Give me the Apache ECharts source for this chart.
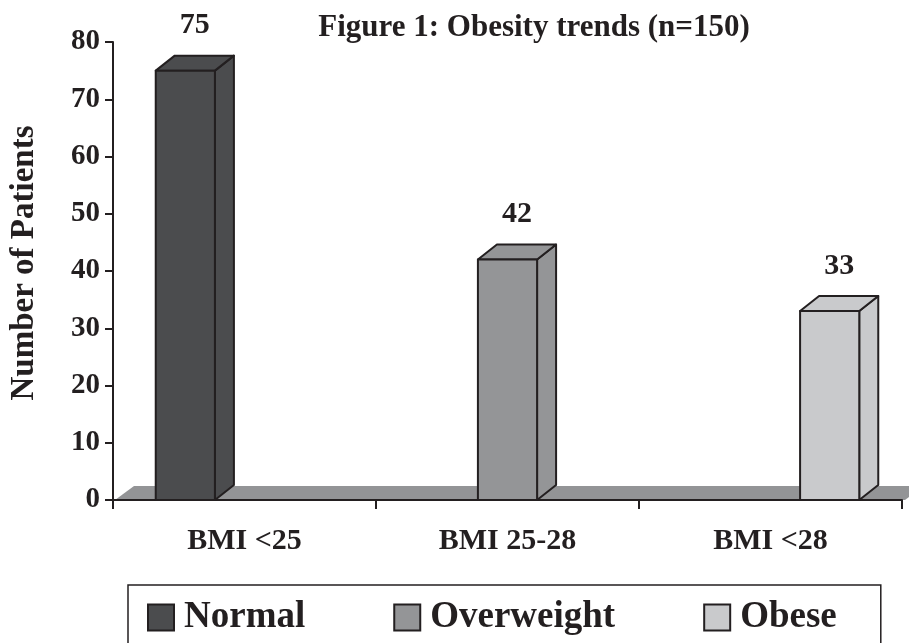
<!DOCTYPE html>
<html>
<head>
<meta charset="utf-8">
<style>
  html, body { margin: 0; padding: 0; background: #ffffff; }
  #chart { width: 909px; height: 643px; }
</style>
<script src="https://cdn.jsdelivr.net/npm/echarts@6/dist/echarts.min.js"></script>
</head>
<body>
<div id="chart"></div>
<script>
// BMI groups on the x axis
const categories = ['BMI <25', 'BMI 25-28', 'BMI <28'];
// One series per weight class; each class has a single BMI group
const seriesNames = ['Normal', 'Overweight', 'Obese'];
const patientCounts = [75, 42, 33];
const yTicks = [0, 10, 20, 30, 40, 50, 60, 70, 80];

const FONT = '"Liberation Serif", "Times New Roman", serif';
const INK = '#231f20';
const barColors = ['#4b4c4e', '#949597', '#c9cacc'];
const floorColor = '#939496';
const DEPTH_X = 19, DEPTH_Y = 15;

const chart = echarts.init(document.getElementById('chart'), null, { renderer: 'canvas' });

// Gray slanted floor under the plot
function renderFloor(params, api) {
  const cs = params.coordSys;
  const y0 = cs.y + cs.height;
  const x0 = cs.x + 2, x1 = cs.x + cs.width + 3;
  return {
    type: 'polygon',
    shape: { points: [[x0, y0], [x0 + DEPTH_X, y0 - 14], [x1 + DEPTH_X, y0 - 14], [x1, y0]] },
    style: { fill: floorColor }
  };
}

// Box-shaped bar: front face, top face and right side, plus value label
function makeBarRenderer(slot, color) {
  return function (params, api) {
    const cat = api.value(0);
    const val = api.value(1);
    const base = api.coord([cat, 0]);
    const top = api.coord([cat, val]);
    const band = api.size([1, 0])[0];
    const w = band * 0.225;
    const cx = base[0] + (slot - 1) * w;
    const xl = cx - w / 2, xr = cx + w / 2;
    const yt = top[1], yb = base[1];
    const stroke = { stroke: INK, lineWidth: 2, lineJoin: 'round' };
    return {
      type: 'group',
      children: [
        {
          type: 'polygon',
          shape: { points: [[xr, yt], [xr + DEPTH_X, yt - DEPTH_Y], [xr + DEPTH_X, yb - DEPTH_Y], [xr, yb]] },
          style: Object.assign({ fill: color }, stroke)
        },
        {
          type: 'polygon',
          shape: { points: [[xl, yt], [xl + DEPTH_X, yt - DEPTH_Y], [xr + DEPTH_X, yt - DEPTH_Y], [xr, yt]] },
          style: Object.assign({ fill: color }, stroke)
        },
        {
          type: 'rect',
          shape: { x: xl, y: yt, width: w, height: yb - yt },
          style: Object.assign({ fill: color }, stroke)
        },
        {
          type: 'text',
          x: cx + DEPTH_X / 2,
          y: yt - DEPTH_Y - 30,
          style: {
            text: String(val),
            fill: INK,
            font: 'bold 30px ' + FONT,
            textAlign: 'center',
            textVerticalAlign: 'middle'
          }
        }
      ]
    };
  };
}

const barSeries = seriesNames.map(function (name, i) {
  return {
    name: name,
    type: 'custom',
    z: 3,
    clip: false,
    itemStyle: { color: barColors[i], borderColor: INK, borderWidth: 1.5 },
    renderItem: makeBarRenderer(i, barColors[i]),
    encode: { x: 0, y: 1 },
    data: [[i, patientCounts[i]]]
  };
});

chart.setOption({
  backgroundColor: '#ffffff',
  animation: false,
  title: {
    text: 'Figure 1: Obesity trends (n=150)',
    left: 529,
    top: 7,
    textAlign: 'center',
    textStyle: { fontFamily: FONT, fontWeight: 'bold', fontSize: 31, color: INK }
  },
  legend: {
    data: seriesNames,
    left: 128,
    top: 585,
    orient: 'horizontal',
    padding: [14, 44, 60, 19],
    itemGap: 88,
    itemWidth: 26,
    itemHeight: 26,
    icon: 'rect',
    borderColor: INK,
    borderWidth: 1.5,
    textStyle: { fontFamily: FONT, fontWeight: 'bold', fontSize: 37, color: INK, padding: [0, 0, 0, 5] }
  },
  grid: { left: 108, right: 7, top: 42, bottom: 143, containLabel: false },
  xAxis: {
    type: 'category',
    data: categories,
    z: 2,
    boundaryGap: true,
    axisLine: { lineStyle: { color: INK, width: 2 } },
    axisTick: { show: true, alignWithLabel: false, length: 9, lineStyle: { color: INK, width: 2 } },
    axisLabel: { margin: 26, fontFamily: FONT, fontWeight: 'bold', fontSize: 30, color: INK }
  },
  yAxis: {
    type: 'value',
    min: yTicks[0],
    max: yTicks[yTicks.length - 1],
    interval: yTicks[1] - yTicks[0],
    z: 2,
    name: 'Number of Patients',
    nameLocation: 'middle',
    nameGap: 72,
    nameTextStyle: { fontFamily: FONT, fontWeight: 'bold', fontSize: 33, color: INK, padding: [0, 0, 0, 16] },
    splitLine: { show: false },
    axisLine: { show: true, lineStyle: { color: INK, width: 2 } },
    axisTick: { show: true, length: 8, lineStyle: { color: INK, width: 2 } },
    axisLabel: { margin: 13, fontFamily: FONT, fontWeight: 'bold', fontSize: 29, color: INK }
  },
  series: [
    {
      name: 'floor',
      type: 'custom',
      z: 0,
      clip: false,
      silent: true,
      renderItem: renderFloor,
      data: [[0, 0]]
    }
  ].concat(barSeries)
});
</script>
</body>
</html>
